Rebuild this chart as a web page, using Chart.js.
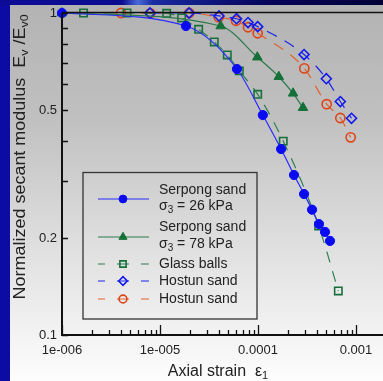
<!DOCTYPE html>
<html lang="en">
<head>
    <meta charset="UTF-8">
    <title>Normalized secant modulus vs axial strain</title>
    <script src="https://cdn.jsdelivr.net/npm/chart.js@4/dist/chart.umd.min.js"></script>
    <style>
        html, body { margin: 0; padding: 0; overflow: hidden; width: 383px; height: 381px; }
        body { position: relative; background: #0c0ca4; }
        #topband {
            position: absolute; left: 0; top: 0; width: 383px; height: 5px;
            background: linear-gradient(90deg, #0c0c96 0%, #0c0c90 32%, #4a6ad8 36%, #1a2aa0 40%, #05055a 70%, #020238 100%);
        }
        #panel {
            position: absolute; left: 10px; top: 5px; width: 373px; height: 376px;
            background: linear-gradient(180deg, #b3b3b3 0%, #c0c0c0 30%, #e0e0e0 65%, #fdfdfd 100%);
        }
        #chart { position: absolute; left: 0; top: 0; }
    </style>
</head>
<body>
    <div id="topband"></div>
    <div id="panel"></div>
    <canvas id="chart" width="400" height="381"></canvas>

    <script>
        // data
        const serpong26X = [1e-6, 1.84e-5, 6.1e-5, 1.12e-4, 1.72e-4, 2.33e-4, 2.95e-4, 3.56e-4, 4.19e-4, 4.83e-4, 5.43e-4];
        const serpong26Y = [1.0, 0.911, 0.67, 0.482, 0.378, 0.314, 0.274, 0.245, 0.221, 0.209, 0.196];

        const serpong78X = [1e-6, 4.16e-5, 9.84e-5, 1.63e-4, 2.28e-4, 2.88e-4];
        const serpong78Y = [1.0, 0.911, 0.729, 0.634, 0.563, 0.508];

        const glassX = [1.66e-6, 4.61e-6, 1.17e-5, 1.66e-5, 2.48e-5, 3.58e-5, 4.86e-5, 6.45e-5, 9.93e-5, 1.81e-4, 4.16e-4, 6.6e-4];
        const glassY = [1.0, 1.0, 0.998, 0.965, 0.89, 0.813, 0.741, 0.661, 0.559, 0.40, 0.218, 0.137];

        const hostunBlueX = [7.9e-6, 1.98e-5, 4.0e-5, 6.04e-5, 7.91e-5, 9.93e-5, 2.95e-4, 4.98e-4, 6.92e-4, 9.0e-4];
        const hostunBlueY = [1.0, 1.0, 0.979, 0.96, 0.934, 0.907, 0.743, 0.625, 0.531, 0.471];

        const hostunRedX = [4.0e-6, 7.96e-6, 1.99e-5, 3.97e-5, 5.97e-5, 7.91e-5, 9.93e-5, 2.97e-4, 5.02e-4, 6.92e-4, 8.83e-4];
        const hostunRedY = [1.0, 0.998, 1.0, 0.970, 0.946, 0.903, 0.865, 0.673, 0.521, 0.472, 0.411];

        const xTickLabels = { '-6': '1e-006', '-5': '1e-005', '-4': '0.0001', '-3': '0.001' };
        const yTickValues = [1, 0.5, 0.2, 0.1];
        const yTickLabels = ['1', '0.5', '0.2', '0.1'];

        const FONT = '"Liberation Sans", Arial, sans-serif';

        const pts = (xs, ys) => xs.map((x, i) => ({ x: x, y: ys[i] }));

        const datasets = [
            {
                label: 'Serpong sand', sub: '26 kPa',
                data: pts(serpong26X, serpong26Y),
                borderColor: '#2a2aff', backgroundColor: '#0a0af5', pointBorderColor: '#0a0af5',
                borderWidth: 1.2, pointStyle: 'circle', pointRadius: 4.6, pointBorderWidth: 1,
                cubicInterpolationMode: 'monotone', clip: false
            },
            {
                label: 'Serpong sand', sub: '78 kPa',
                data: pts(serpong78X, serpong78Y),
                borderColor: '#2c7a4a', backgroundColor: '#157038', pointBorderColor: '#157038',
                borderWidth: 1.2, pointStyle: 'triangle', pointRadius: 5.5, pointBorderWidth: 1,
                cubicInterpolationMode: 'monotone', clip: false
            },
            {
                label: 'Glass balls',
                data: pts(glassX, glassY),
                borderColor: '#2c8050', backgroundColor: 'rgba(0,0,0,0)', pointBorderColor: '#17703c',
                borderWidth: 1.2, borderDash: [11, 9], pointStyle: 'rect', pointRadius: 5.2, pointBorderWidth: 1.6,
                cubicInterpolationMode: 'monotone', clip: false
            },
            {
                label: 'Hostun sand',
                data: pts(hostunBlueX, hostunBlueY),
                borderColor: '#1a24f0', backgroundColor: 'rgba(0,0,0,0)', pointBorderColor: '#1018f0',
                borderWidth: 1.2, borderDash: [11, 9], pointStyle: 'rectRot', pointRadius: 5, pointBorderWidth: 1.6,
                cubicInterpolationMode: 'monotone', clip: false
            },
            {
                label: 'Hostun sand',
                data: pts(hostunRedX, hostunRedY),
                borderColor: '#e2602e', backgroundColor: 'rgba(0,0,0,0)', pointBorderColor: '#de4416',
                borderWidth: 1.2, borderDash: [11, 9], pointStyle: 'circle', pointRadius: 4.6, pointBorderWidth: 1.6,
                cubicInterpolationMode: 'monotone', clip: false
            }
        ];

        const isPow10 = v => Math.abs(Math.log10(v) - Math.round(Math.log10(v))) < 1e-6;
        // 1,2,..9 x 10^n only (the log scale also makes 0.11, 0.12 ... which we skip)
        const isDecadeStep = v => {
            const m = v / Math.pow(10, Math.floor(Math.log10(v) + 1e-9));
            return Math.abs(m - Math.round(m)) < 1e-6;
        };

        // frame, inside ticks, titles with subscripts, legend box
        const decorations = {
            id: 'decorations',
            afterDatasetsDraw(chart) {
                const ctx = chart.ctx;
                const a = chart.chartArea;
                const xs = chart.scales.x, ys = chart.scales.y;
                ctx.save();

                // axis lines
                ctx.strokeStyle = '#111';
                ctx.lineWidth = 2;
                ctx.beginPath();
                ctx.moveTo(a.left, a.top); ctx.lineTo(a.left, a.bottom); ctx.lineTo(a.right, a.bottom);
                ctx.stroke();
                ctx.lineWidth = 1.5;
                ctx.beginPath();
                ctx.moveTo(a.left, a.top - 0.5); ctx.lineTo(a.right, a.top - 0.5);
                ctx.stroke();

                // ticks pointing inside
                ctx.lineWidth = 1.3;
                ctx.beginPath();
                xs.ticks.filter(t => isDecadeStep(t.value)).forEach(t => {
                    const px = Math.round(xs.getPixelForValue(t.value)) + 0.5;
                    const len = isPow10(t.value) ? 10 : 5;
                    ctx.moveTo(px, a.bottom); ctx.lineTo(px, a.bottom - len);
                });
                ys.ticks.filter(t => isDecadeStep(t.value)).forEach(t => {
                    const py = Math.round(ys.getPixelForValue(t.value)) + 0.5;
                    ctx.moveTo(a.left, py); ctx.lineTo(a.left + 6, py);
                });
                ctx.stroke();

                ctx.fillStyle = '#222';
                ctx.textBaseline = 'alphabetic';
                ctx.textAlign = 'left';

                // x title: Axial strain  ε1
                const big = '16px ' + FONT, small = '11px ' + FONT;
                ctx.font = big;
                const t1 = 'Axial strain  \u03b5';
                const w1 = ctx.measureText(t1).width;
                ctx.font = small;
                const w2 = ctx.measureText('1').width;
                let sx = 218 - (w1 + w2) / 2;
                ctx.font = big; ctx.fillText(t1, sx, 376);
                ctx.font = small; ctx.fillText('1', sx + w1, 379);

                // y title: Normalized secant modulus  Ev /Ev0 (stretched like the source)
                ctx.save();
                ctx.translate(25, 157);
                ctx.rotate(-Math.PI / 2);
                const parts = [['Normalized secant modulus  E', big, 0], ['v', small, 3], [' /E', big, 0], ['v0', small, 3]];
                let total = 0;
                parts.forEach(p => { ctx.font = p[1]; total += ctx.measureText(p[0]).width; });
                ctx.scale(285 / total, 1);
                let px = -total / 2;
                parts.forEach(p => { ctx.font = p[1]; ctx.fillText(p[0], px, p[2]); px += ctx.measureText(p[0]).width; });
                ctx.restore();

                // legend
                ctx.strokeStyle = '#333';
                ctx.lineWidth = 1.3;
                ctx.strokeRect(83, 172.5, 174, 146.5);
                const rows = [
                    { ds: 0, y: 199, lines: [['Serpong sand', 190], ['\u03c3', 206, '3', ' = 26 kPa']] },
                    { ds: 1, y: 237, lines: [['Serpong sand', 227], ['\u03c3', 244, '3', ' = 78 kPa']] },
                    { ds: 2, y: 264, lines: [['Glass balls', 264]] },
                    { ds: 3, y: 281, lines: [['Hostun sand', 281]] },
                    { ds: 4, y: 299, lines: [['Hostun sand', 299]] }
                ];
                const lf = '14px ' + FONT, lfs = '10px ' + FONT;
                rows.forEach(r => {
                    const d = chart.data.datasets[r.ds];
                    ctx.save();
                    ctx.strokeStyle = d.borderColor;
                    ctx.lineWidth = 1.2;
                    ctx.beginPath();
                    if (d.borderDash) {
                        [[98, 105], [117, 129], [141, 149]].forEach(s => { ctx.moveTo(s[0], r.y); ctx.lineTo(s[1], r.y); });
                    } else {
                        ctx.moveTo(98, r.y); ctx.lineTo(149, r.y);
                    }
                    ctx.stroke();
                    ctx.fillStyle = d.backgroundColor;
                    ctx.strokeStyle = d.pointBorderColor;
                    ctx.lineWidth = d.pointBorderWidth;
                    Chart.helpers.drawPoint(ctx, {
                        pointStyle: d.pointStyle, rotation: 0,
                        radius: d.pointRadius * 0.85, borderWidth: d.pointBorderWidth
                    }, 123, r.y);
                    ctx.restore();

                    ctx.fillStyle = '#222';
                    ctx.textBaseline = 'middle';
                    r.lines.forEach(l => {
                        ctx.font = lf;
                        ctx.fillText(l[0], 159, l[1]);
                        if (l.length > 2) {
                            const ws = ctx.measureText(l[0]).width;
                            ctx.font = lfs;
                            ctx.fillText(l[2], 159 + ws, l[1] + 4);
                            const wn = ctx.measureText(l[2]).width;
                            ctx.font = lf;
                            ctx.fillText(l[3], 159 + ws + wn, l[1]);
                        }
                    });
                });

                ctx.restore();
            }
        };

        new Chart(document.getElementById('chart').getContext('2d'), {
            type: 'line',
            data: { datasets: datasets },
            options: {
                responsive: false,
                animation: false,
                layout: { padding: { top: 13, right: 14.5, left: 0, bottom: 0 } },
                plugins: { legend: { display: false }, tooltip: { enabled: false } },
                scales: {
                    x: {
                        type: 'logarithmic', min: 1e-6, max: 0.002,
                        grid: { display: false, drawTicks: false }, border: { display: false },
                        ticks: {
                            autoSkip: false, maxRotation: 0, padding: 8,
                            color: '#222', font: { family: FONT, size: 13 },
                            callback: v => isPow10(v) ? (xTickLabels[String(Math.round(Math.log10(v)))] || '') : ''
                        },
                        afterFit: s => { s.height = 46; }
                    },
                    y: {
                        type: 'logarithmic', min: 0.1, max: 1,
                        grid: { display: false, drawTicks: false }, border: { display: false },
                        ticks: {
                            autoSkip: false, padding: 5,
                            color: '#222', font: { family: FONT, size: 13 },
                            callback: v => {
                                const i = yTickValues.findIndex(t => Math.abs(t - v) < 1e-9);
                                return i >= 0 ? yTickLabels[i] : '';
                            }
                        },
                        afterFit: s => { s.width = 62; }
                    }
                }
            },
            plugins: [decorations]
        });
    </script>
</body>
</html>
